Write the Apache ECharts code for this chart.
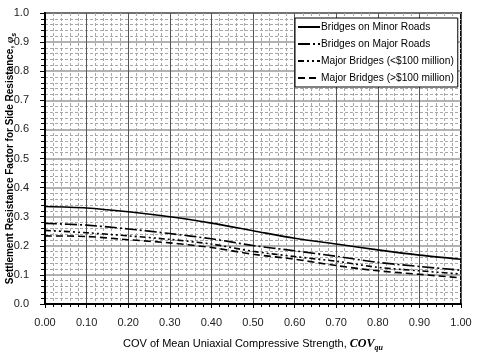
<!DOCTYPE html>
<html>
<head>
<meta charset="utf-8">
<script src="https://cdn.jsdelivr.net/npm/echarts@6/dist/echarts.min.js"></script>
<style>
html,body{margin:0;padding:0;background:#fff;}
#chart{width:478px;height:354px;}
</style>
</head>
<body>
<div id="chart"></div>
<script>
var cov = [0.0, 0.1, 0.2, 0.3, 0.4, 0.5, 0.6, 0.7, 0.8, 0.9, 1.0];
var minorRoads = [0.335, 0.330, 0.317, 0.300, 0.278, 0.252, 0.226, 0.206, 0.186, 0.168, 0.154];
var majorRoads = [0.277, 0.271, 0.258, 0.242, 0.224, 0.201, 0.183, 0.164, 0.143, 0.129, 0.116];
var majorBridgesLow = [0.253, 0.245, 0.234, 0.222, 0.206, 0.181, 0.163, 0.147, 0.126, 0.114, 0.103];
var majorBridgesHigh = [0.234, 0.232, 0.221, 0.210, 0.194, 0.171, 0.154, 0.132, 0.114, 0.102, 0.090];
var seriesNames = ['Bridges on Minor Roads', 'Bridges on Major Roads', 'Major Bridges (<$100 million)', 'Major Bridges (>$100 million)'];
var xTickLabels = ['0.00','0.10','0.20','0.30','0.40','0.50','0.60','0.70','0.80','0.90','1.00'];
var yTickLabels = ['0.0','0.1','0.2','0.3','0.4','0.5','0.6','0.7','0.8','0.9','1.0'];

function pairs(ys){ return cov.map(function(x,i){ return [x, ys[i]]; }); }
var FONT = 'Liberation Sans, Arial, sans-serif';
var SERIF = 'Liberation Serif, Times New Roman, serif';
var dashes = ['solid', [12,3,2,3], [6,3,2,3,2,3], [7,4]];
var allData = [minorRoads, majorRoads, majorBridgesLow, majorBridgesHigh];

var chart = echarts.init(document.getElementById('chart'), null, {renderer:'canvas'});
chart.setOption({
  animation: false,
  backgroundColor: '#fff',
  grid: {left: 45, right: 17, top: 13, bottom: 50, containLabel: false, outerBoundsMode: 'none',
    show: true, borderColor: '#000', borderWidth: 2, backgroundColor: 'transparent'},
  legend: {
    orient: 'vertical', left: 295, top: 18,
    data: seriesNames,
    backgroundColor: '#fff', borderColor: '#000', borderWidth: 1,
    padding: [4, 4, 4, 2], itemGap: 7, itemWidth: 22, itemHeight: 12,
    itemStyle: {opacity: 0},
    textStyle: {fontFamily: FONT, fontSize: 10.2, color: '#000', padding: [0,0,0,-4]}
  },
  xAxis: {
    type: 'value', min: 0, max: 1, interval: 0.1,
    axisLine: {onZero: false, lineStyle: {color: '#000', width: 2}},
    axisTick: {show: true, length: 4, lineStyle: {color: '#000', width: 1}},
    minorTick: {show: true, splitNumber: 5, length: 3, lineStyle: {color: '#000'}},
    axisLabel: {fontFamily: FONT, fontSize: 11, color: '#222', margin: 13,
      formatter: function(v){ return xTickLabels[Math.round(v*10)]; }},
    splitLine: {show: true, lineStyle: {color: '#555', width: 1}},
    minorSplitLine: {show: true, lineStyle: {color: '#a8a8a8', width: 1, type: [3,2]}},
    name: '{b|COV of Mean Uniaxial Compressive Strength, }{i|COV}{s|qu}',
    nameLocation: 'middle', nameGap: 32, nameMoveOverlap: false,
    nameTextStyle: {rich: {
      b: {fontFamily: FONT, fontSize: 11, color: '#000', lineHeight: 16},
      i: {fontFamily: SERIF, fontStyle: 'italic', fontWeight: 'bold', fontSize: 12, color: '#000', lineHeight: 16},
      s: {fontFamily: SERIF, fontStyle: 'italic', fontWeight: 'bold', fontSize: 8, color: '#000', verticalAlign: 'bottom', lineHeight: 10}
    }}
  },
  yAxis: {
    type: 'value', min: 0, max: 1, interval: 0.1,
    axisLine: {onZero: false, lineStyle: {color: '#000', width: 2}},
    axisTick: {show: true, length: 5, lineStyle: {color: '#000', width: 1}},
    minorTick: {show: true, splitNumber: 5, length: 4, lineStyle: {color: '#000'}},
    axisLabel: {fontFamily: FONT, fontSize: 11, color: '#222', margin: 16,
      formatter: function(v){ return yTickLabels[Math.round(v*10)]; }},
    splitLine: {show: true, lineStyle: {color: '#999', width: 1.5}},
    minorSplitLine: {show: true, lineStyle: {color: '#a8a8a8', width: 1, type: [3,2]}},
    name: '{b|Settlement Resistance Factor for Side Resistance, }{i|φ}{s|s}',
    nameLocation: 'middle', nameGap: 27, nameRotate: 90, nameMoveOverlap: false,
    nameTextStyle: {rich: {
      b: {fontFamily: FONT, fontSize: 10, fontWeight: 'bold', color: '#000', lineHeight: 16},
      i: {fontFamily: SERIF, fontStyle: 'italic', fontWeight: 'bold', fontSize: 11, color: '#000', lineHeight: 16},
      s: {fontFamily: FONT, fontStyle: 'italic', fontWeight: 'bold', fontSize: 7, color: '#000', verticalAlign: 'bottom', lineHeight: 10}
    }}
  },
  series: seriesNames.map(function(n, k){
    return {
      name: n, type: 'line', data: pairs(allData[k]), smooth: 0.3,
      symbol: 'none', showSymbol: false,
      lineStyle: {color: '#000', width: 1.6, type: dashes[k]},
      itemStyle: {color: '#000'}, z: 5
    };
  })
});
</script>
</body>
</html>
